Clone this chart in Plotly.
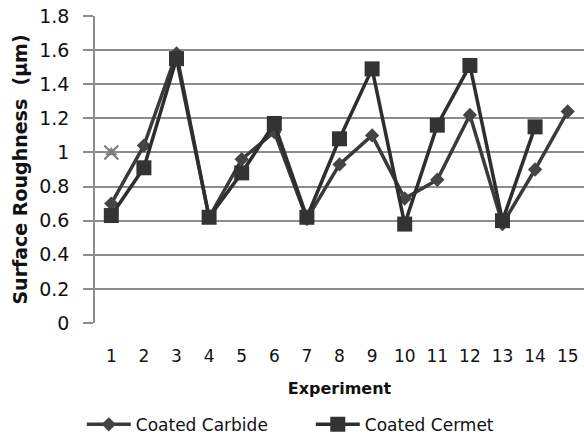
import plotly.graph_objects as go

experiments = [str(i) for i in range(1, 16)]
carbide = [0.70, 1.04, 1.58, 0.62, 0.96, 1.12, 0.61, 0.93, 1.10, 0.73, 0.84, 1.22, 0.58, 0.90, 1.24]
cermet = [0.63, 0.91, 1.55, 0.62, 0.88, 1.17, 0.62, 1.08, 1.49, 0.58, 1.16, 1.51, 0.60, 1.15, None]
extra_x = ["1"]
extra_y = [1.0]
y_ticks = [0, 0.2, 0.4, 0.6, 0.8, 1, 1.2, 1.4, 1.6, 1.8]
y_ticklabels = ["0", "0.2", "0.4", "0.6", "0.8", "1", "1.2", "1.4", "1.6", "1.8"]

FONT = "DejaVu Sans"
fig = go.Figure()
fig.add_trace(go.Scatter(
    x=experiments, y=carbide, name="Coated Carbide", mode="lines+markers",
    line=dict(color="#3a3a3a", width=3.5),
    marker=dict(symbol="diamond", size=11, color="#444444"),
))
fig.add_trace(go.Scatter(
    x=experiments, y=cermet, name="Coated Cermet", mode="lines+markers",
    line=dict(color="#2e2e2e", width=3.5),
    marker=dict(symbol="square", size=15, color="#333333"),
))
fig.add_trace(go.Scatter(
    x=extra_x, y=extra_y, mode="markers", showlegend=False,
    marker=dict(symbol="triangle-up", size=11, color="#8a8a8a"),
))
fig.add_trace(go.Scatter(
    x=extra_x, y=extra_y, mode="markers", showlegend=False,
    marker=dict(symbol="x-thin", size=14, line=dict(color="#7a7a7a", width=2)),
))

fig.update_layout(
    width=584, height=439,
    margin=dict(l=95, r=0, t=16, b=116, autoexpand=False),
    paper_bgcolor="white", plot_bgcolor="white",
    font=dict(family=FONT, color="#111111"),
    legend=dict(orientation="h", x=-0.027, xanchor="left",
                y=-0.273, yanchor="top",
                font=dict(size=17, family=FONT), itemwidth=44,
                entrywidth=170, entrywidthmode="pixels"),
    xaxis=dict(
        type="category", range=[-0.5, 14.5], automargin=False,
        showgrid=False, showline=False, zeroline=False,
        ticks="outside", ticklen=18, tickcolor="rgba(0,0,0,0)",
        tickfont=dict(size=17, family=FONT),
        title=dict(text="<b>Experiment</b>", font=dict(size=16, family=FONT), standoff=17),
    ),
    yaxis=dict(
        range=[0, 1.8], tickvals=y_ticks, ticktext=y_ticklabels, automargin=False,
        showgrid=True, gridcolor="#8c8c8c", gridwidth=1.5,
        showline=True, linecolor="#8c8c8c", linewidth=1.5,
        ticks="outside", ticklen=10, tickcolor="#8c8c8c", tickwidth=1.5,
        ticklabelstandoff=10,
        zeroline=False, tickfont=dict(size=19, family=FONT),
        title=dict(text="<b>Surface Roughness  (μm)</b>", font=dict(size=19, family=FONT), standoff=7),
    ),
)
fig.write_html("out.html")
